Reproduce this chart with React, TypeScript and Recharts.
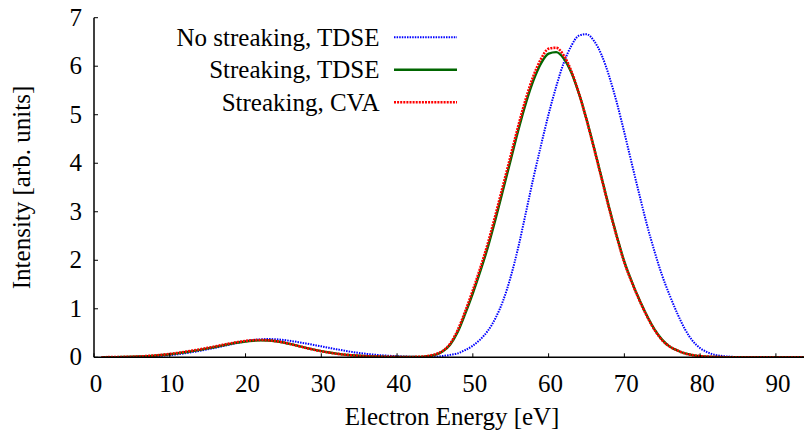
import React from 'react';
import { LineChart, Line, XAxis, YAxis, Legend, Label } from 'recharts';

// Photoelectron spectra: electron energy (eV) vs intensity (arb. units)
const energies = [
  1, 2, 3, 4, 5, 6, 7, 8, 9, 10, 11, 12, 13, 14, 15, 16, 17, 18, 19, 20,
  21, 22, 23, 24, 25, 26, 27, 28, 29, 30, 31, 32, 33, 34, 35, 36, 37, 38, 39, 40,
  41, 42, 43, 44, 45, 46, 47, 48, 49, 50, 51, 52, 53, 54, 55, 56, 57, 58, 59, 60,
  61, 62, 63, 64, 65, 66, 67, 68, 69, 70, 71, 72, 73, 74, 75, 76, 77, 78, 79, 80,
  81, 82, 83, 84, 85, 86, 87, 88, 89, 90, 91, 92, 93, 94,
];

const noStreakingTdse = [
  0.001, 0.001, 0.002, 0.004, 0.006, 0.010, 0.015, 0.022, 0.032, 0.045,
  0.062, 0.083, 0.107, 0.135, 0.165, 0.197, 0.230, 0.264, 0.298, 0.330,
  0.355, 0.370, 0.376, 0.372, 0.358, 0.337, 0.312, 0.284, 0.255, 0.226,
  0.196, 0.166, 0.138, 0.112, 0.089, 0.070, 0.054, 0.041, 0.031, 0.023,
  0.016, 0.011, 0.007, 0.006, 0.010, 0.025, 0.050, 0.080, 0.150, 0.240,
  0.370, 0.550, 0.810, 1.170, 1.660, 2.270, 2.980, 3.700, 4.370, 5.010,
  5.580, 6.070, 6.420, 6.630, 6.660, 6.520, 6.230, 5.790, 5.250, 4.630,
  3.980, 3.340, 2.720, 2.170, 1.680, 1.270, 0.900, 0.580, 0.340, 0.190,
  0.100, 0.050, 0.025, 0.012, 0.006, 0.003, 0.001, 0, 0, 0,
  0, 0, 0, 0,
];

const streakingTdse = [
  0.001, 0.002, 0.004, 0.006, 0.010, 0.015, 0.023, 0.033, 0.046, 0.062,
  0.081, 0.103, 0.127, 0.154, 0.183, 0.213, 0.245, 0.276, 0.304, 0.327,
  0.342, 0.348, 0.345, 0.330, 0.304, 0.270, 0.232, 0.194, 0.158, 0.126,
  0.098, 0.075, 0.056, 0.042, 0.031, 0.023, 0.017, 0.012, 0.009, 0.007,
  0.006, 0.006, 0.009, 0.022, 0.050, 0.120, 0.260, 0.520, 0.900, 1.320,
  1.780, 2.280, 2.850, 3.460, 4.070, 4.680, 5.240, 5.710, 6.060, 6.260,
  6.290, 6.160, 5.870, 5.440, 4.910, 4.320, 3.700, 3.080, 2.500, 1.970,
  1.550, 1.180, 0.850, 0.570, 0.360, 0.220, 0.140, 0.080, 0.045, 0.025,
  0.013, 0.007, 0.003, 0.001, 0, 0, 0, 0, 0, 0,
  0, 0, 0, 0,
];

const streakingCva = [
  0.002, 0.003, 0.005, 0.008, 0.012, 0.018, 0.027, 0.038, 0.052, 0.070,
  0.090, 0.113, 0.138, 0.165, 0.194, 0.224, 0.256, 0.287, 0.315, 0.338,
  0.352, 0.356, 0.350, 0.333, 0.305, 0.270, 0.232, 0.193, 0.157, 0.125,
  0.097, 0.074, 0.055, 0.041, 0.030, 0.022, 0.016, 0.012, 0.009, 0.007,
  0.006, 0.007, 0.011, 0.026, 0.060, 0.130, 0.280, 0.560, 0.950, 1.380,
  1.850, 2.360, 2.940, 3.550, 4.160, 4.770, 5.330, 5.800, 6.150, 6.360,
  6.380, 6.220, 5.900, 5.440, 4.900, 4.300, 3.680, 3.060, 2.480, 1.950,
  1.540, 1.170, 0.840, 0.560, 0.350, 0.220, 0.140, 0.080, 0.045, 0.025,
  0.013, 0.007, 0.003, 0.001, 0, 0, 0, 0, 0, 0,
  0, 0, 0, 0,
];

const xTicks = [0, 10, 20, 30, 40, 50, 60, 70, 80, 90];
const yTicks = [0, 1, 2, 3, 4, 5, 6, 7];

const seriesNames = ['No streaking, TDSE', 'Streaking, TDSE', 'Streaking, CVA'];
const xTitle = 'Electron Energy [eV]';
const yTitle = 'Intensity [arb. units]';

const data = energies.map((e, i) => ({
  energy: e,
  noStreak: noStreakingTdse[i],
  streak: streakingTdse[i],
  cva: streakingCva[i],
}));

const SERIES = [
  { key: 'noStreak', name: seriesNames[0], color: '#0000ff', width: 2, dash: '1.5 1.1' },
  { key: 'streak', name: seriesNames[1], color: '#006600', width: 2.4, dash: undefined },
  { key: 'cva', name: seriesNames[2], color: '#ff0000', width: 2.6, dash: '2 1.1' },
];

const FAMILY = 'Liberation Serif';
const FS = 25;
const TICK_LEN = 4;

// Shared text element in the serif face used for all chart labels
const SerifText = ({ children, ...rest }: any) => (
  <text {...rest} fontFamily={FAMILY} fontSize={FS} fill="#000" stroke="none" style={{ fontFamily: FAMILY, fontSize: FS }}>
    {children}
  </text>
);

const BottomTick = (props: any) => {
  const { x, y, payload } = props;
  return (
    <g>
      <line x1={x} x2={x} y1={y} y2={y - TICK_LEN} stroke="#000" strokeWidth={1} />
      <SerifText x={x + 2} y={y + 34.4} textAnchor="middle">
        {payload.value}
      </SerifText>
    </g>
  );
};

const TopTick = (props: any) => {
  const { x, y } = props;
  return <line x1={x} x2={x} y1={y} y2={y + TICK_LEN} stroke="#000" strokeWidth={1} />;
};

const LeftTick = (props: any) => {
  const { x, y, payload } = props;
  return (
    <g>
      <line x1={x} x2={x + TICK_LEN} y1={y} y2={y} stroke="#000" strokeWidth={1} />
      <SerifText x={x - 12} y={y + 8} textAnchor="end">
        {payload.value}
      </SerifText>
    </g>
  );
};

const XTitle = (props: any) => {
  const vb = props.viewBox;
  return (
    <SerifText x={vb.x + vb.width / 2 + 2} y={vb.y + 67.2} textAnchor="middle">
      {xTitle}
    </SerifText>
  );
};

const YTitle = (props: any) => {
  const vb = props.viewBox;
  const cx = 30;
  const cy = vb.y + vb.height / 2;
  return (
    <SerifText x={cx} y={cy} transform={`rotate(-90, ${cx}, ${cy})`} textAnchor="middle">
      {yTitle}
    </SerifText>
  );
};

const KeyBox = () => (
  <svg width={804} height={130} style={{ display: 'block', pointerEvents: 'none' }}>
    {SERIES.map((s, i) => {
      const base = 45.7 + i * 32.5;
      return (
        <g key={s.key}>
          <SerifText x={379.5} y={base} textAnchor="end">
            {s.name}
          </SerifText>
          <line x1={394} x2={457} y1={base - 8.4} y2={base - 8.4} stroke={s.color} strokeWidth={s.width} strokeDasharray={s.dash} />
        </g>
      );
    })}
  </svg>
);

export default function App() {
  return (
    <div
      style={{
        position: 'absolute',
        left: 0,
        top: 0,
        width: 804,
        height: 432,
        overflow: 'hidden',
        background: '#fff',
        fontFamily: FAMILY,
      }}
    >
      <LineChart
        width={812}
        height={432}
        data={data}
        margin={{ top: 17.7, right: 5.8, bottom: 0, left: 0 }}
        style={{ fontFamily: FAMILY }}
      >
        <XAxis
          xAxisId="bottom"
          dataKey="energy"
          type="number"
          domain={[0, 94]}
          ticks={xTicks}
          interval={0}
          allowDataOverflow
          orientation="bottom"
          height={74.7}
          tickSize={0}
          tickMargin={0}
          tickLine={false}
          axisLine={{ stroke: '#000', strokeWidth: 1.5 }}
          tick={<BottomTick />}
        >
          <Label content={<XTitle />} />
        </XAxis>
        <XAxis
          xAxisId="top"
          dataKey="energy"
          type="number"
          domain={[0, 94]}
          ticks={xTicks}
          interval={0}
          allowDataOverflow
          orientation="top"
          height={0}
          tickSize={0}
          tickMargin={0}
          tickLine={false}
          axisLine={{ stroke: '#000', strokeWidth: 1.5 }}
          tick={<TopTick />}
        />
        <YAxis
          type="number"
          domain={[0, 7]}
          ticks={yTicks}
          interval={0}
          allowDataOverflow
          width={94}
          tickSize={0}
          tickMargin={0}
          tickLine={false}
          axisLine={{ stroke: '#000', strokeWidth: 1.5 }}
          tick={<LeftTick />}
        >
          <Label content={<YTitle />} />
        </YAxis>
        <Legend
          layout="vertical"
          align="center"
          verticalAlign="middle"
          wrapperStyle={{ left: 0, top: 0, width: 804, height: 130 }}
          content={() => <KeyBox />}
        />
        {SERIES.map((s) => (
          <Line
            key={s.key}
            xAxisId="bottom"
            type="monotone"
            dataKey={s.key}
            name={s.name}
            stroke={s.color}
            strokeWidth={s.width}
            strokeDasharray={s.dash}
            dot={false}
            activeDot={false}
            isAnimationActive={false}
          />
        ))}
      </LineChart>
    </div>
  );
}
